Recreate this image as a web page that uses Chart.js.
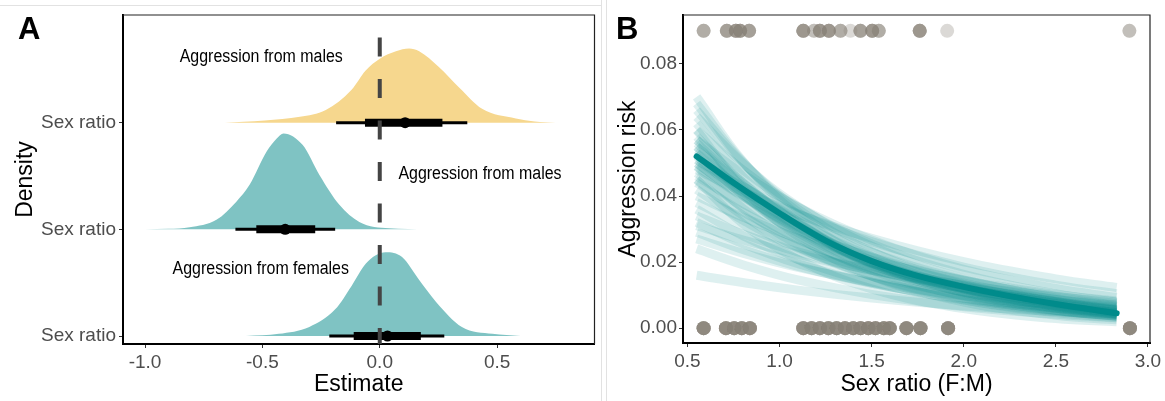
<!DOCTYPE html>
<html>
<head>
<meta charset="utf-8">
<script src="https://cdn.jsdelivr.net/npm/chart.js@4.4.0/dist/chart.umd.min.js"></script>
<style>
  html, body { margin: 0; padding: 0; background: #fff; }
  body { width: 1165px; height: 401px; position: relative; overflow: hidden; }
  canvas { position: absolute; top: 0; }
  #chartA { left: 0; }
  #chartB { left: 607px; }
  .rule-h { position: absolute; left: 0; top: 5px; width: 601px; height: 1px; background: #e2e2e2; }
  .rule-v { position: absolute; top: 0; width: 1px; height: 401px; background: #e2e2e2; }
</style>
</head>
<body>
<div class="rule-h"></div>
<div class="rule-v" style="left:601px"></div>
<div class="rule-v" style="left:606px"></div>
<canvas id="chartA" width="600" height="401"></canvas>
<canvas id="chartB" width="558" height="401"></canvas>
<script>
// ---------- Panel A data: posterior densities of the sex ratio effect ----------
const rowLabels = ['Sex ratio', 'Sex ratio', 'Sex ratio'];
const rowBase = [2, 1, 0];          // top, middle, bottom ridge
const xTicksA = [-1.0, -0.5, 0.0, 0.5];

const densTopX = [-0.66, -0.58, -0.49, -0.34, -0.23, -0.12, -0.06, 0.0, 0.069, 0.125, 0.168, 0.253, 0.338, 0.436, 0.58, 0.66, 0.75];
const densTopH = [0.0, 0.008, 0.02, 0.055, 0.12, 0.31, 0.49, 0.6, 0.67, 0.695, 0.67, 0.52, 0.33, 0.13, 0.04, 0.012, 0.0];

const densMidX = [-1.0, -0.9, -0.81, -0.696, -0.611, -0.554, -0.482, -0.44, -0.41, -0.328, -0.257, -0.172, -0.087, 0.04, 0.2];
const densMidH = [0.0, 0.005, 0.02, 0.09, 0.26, 0.42, 0.73, 0.85, 0.9, 0.79, 0.51, 0.23, 0.07, 0.01, 0.0];

const densBotX = [-0.57, -0.43, -0.30, -0.19, -0.12, -0.059, 0.025, 0.095, 0.165, 0.24, 0.35, 0.48, 0.6];
const densBotH = [0.0, 0.02, 0.085, 0.25, 0.47, 0.68, 0.785, 0.74, 0.535, 0.32, 0.085, 0.02, 0.0];

// point intervals (top, middle, bottom)
const thinLo = [-0.186, -0.615, -0.215];
const thinHi = [0.373, -0.19, 0.275];
const thickLo = [-0.063, -0.526, -0.111];
const thickHi = [0.267, -0.275, 0.175];
const medians = [0.108, -0.403, 0.033];

const annTexts = ['Aggression from males', 'Aggression from males', 'Aggression from females'];
const annX = [-0.505, 0.427, -0.507];
const annY = [2.617, 1.52, 0.63];
const zeroLine = 0;

// ---------- Panel B data: aggression risk vs sex ratio ----------
const xTicksB = [0.5, 1.0, 1.5, 2.0, 2.5, 3.0];
const yTicksB = [0.00, 0.02, 0.04, 0.06, 0.08];

// observed groups (plotted at 0.09 = aggressed, 0 = not), with number of overlapping observations
const hitY = 0.09;
const hitX = [0.588, 0.714, 0.763, 0.786, 0.835, 1.129, 1.187, 1.219, 1.268, 1.331, 1.385, 1.439, 1.503, 1.539, 1.761, 1.910, 2.899];
const hitN = [3, 4, 5, 5, 4, 5, 2, 5, 5, 3, 1, 4, 5, 3, 5, 1, 2];
const missY = 0;
const missX = [0.588, 0.709, 0.754, 0.795, 0.839, 1.129, 1.174, 1.219, 1.265, 1.310, 1.355, 1.400, 1.440, 1.482, 1.521, 1.566, 1.598, 1.689, 1.765, 1.915, 2.902];
const missN = [8, 8, 8, 8, 8, 8, 8, 8, 8, 8, 8, 8, 8, 8, 8, 8, 8, 8, 8, 8, 8];

// posterior draws, read at these sex ratios
const curveX = [0.55, 0.8, 1.1, 1.5, 2.0, 2.5, 2.83];
const draws = [
    [0.070, 0.0506, 0.0342, 0.0204, 0.0106, 0.0055, 0.0036],
    [0.068, 0.0504, 0.0352, 0.0218, 0.0120, 0.0065, 0.0045],
    [0.066, 0.0502, 0.0360, 0.0232, 0.0134, 0.0077, 0.0054],
    [0.064, 0.0499, 0.0369, 0.0248, 0.0150, 0.0091, 0.0066],
    [0.062, 0.0459, 0.0321, 0.0198, 0.0109, 0.0060, 0.0041],
    [0.060, 0.0479, 0.0366, 0.0255, 0.0163, 0.0104, 0.0078],
    [0.060, 0.0423, 0.0278, 0.0158, 0.0079, 0.0039, 0.0025],
    [0.058, 0.0441, 0.0317, 0.0204, 0.0118, 0.0068, 0.0048],
    [0.057, 0.0467, 0.0367, 0.0267, 0.0178, 0.0120, 0.0093],
    [0.057, 0.0440, 0.0318, 0.0193, 0.0114, 0.0065, 0.0040],
    [0.056, 0.0436, 0.0323, 0.0217, 0.0132, 0.0080, 0.0058],
    [0.055, 0.0408, 0.0284, 0.0176, 0.0097, 0.0053, 0.0036],
    [0.055, 0.0432, 0.0316, 0.0196, 0.0119, 0.0069, 0.0043],
    [0.054, 0.0431, 0.0329, 0.0230, 0.0146, 0.0093, 0.0070],
    [0.053, 0.0403, 0.0289, 0.0187, 0.0108, 0.0062, 0.0043],
    [0.053, 0.0420, 0.0310, 0.0196, 0.0122, 0.0074, 0.0047],
    [0.052, 0.0405, 0.0300, 0.0201, 0.0122, 0.0074, 0.0054],
    [0.051, 0.0412, 0.0308, 0.0199, 0.0127, 0.0079, 0.0052],
    [0.051, 0.0428, 0.0347, 0.0262, 0.0185, 0.0130, 0.0104],
    [0.050, 0.0400, 0.0305, 0.0213, 0.0136, 0.0087, 0.0065],
    [0.050, 0.0400, 0.0296, 0.0190, 0.0120, 0.0075, 0.0050],
    [0.049, 0.0363, 0.0253, 0.0157, 0.0086, 0.0047, 0.0032],
    [0.049, 0.0398, 0.0300, 0.0197, 0.0128, 0.0081, 0.0055],
    [0.048, 0.0413, 0.0345, 0.0272, 0.0201, 0.0149, 0.0123],
    [0.047, 0.0366, 0.0271, 0.0182, 0.0110, 0.0067, 0.0048],
    [0.046, 0.0377, 0.0296, 0.0215, 0.0144, 0.0097, 0.0075],
    [0.045, 0.0342, 0.0246, 0.0158, 0.0091, 0.0053, 0.0037],
    [0.045, 0.0317, 0.0208, 0.0119, 0.0059, 0.0029, 0.0019],
    [0.044, 0.0352, 0.0268, 0.0187, 0.0119, 0.0076, 0.0057],
    [0.042, 0.0327, 0.0242, 0.0163, 0.0099, 0.0060, 0.0043],
    [0.040, 0.0336, 0.0272, 0.0206, 0.0145, 0.0102, 0.0082],
    [0.038, 0.0311, 0.0245, 0.0178, 0.0119, 0.0080, 0.0062],
    [0.036, 0.0280, 0.0208, 0.0139, 0.0085, 0.0051, 0.0037],
    [0.034, 0.0285, 0.0231, 0.0175, 0.0123, 0.0087, 0.0069],
    [0.032, 0.0256, 0.0195, 0.0136, 0.0087, 0.0055, 0.0042],
    [0.031, 0.0267, 0.0223, 0.0175, 0.0130, 0.0096, 0.0079],
    [0.029, 0.0238, 0.0187, 0.0136, 0.0091, 0.0061, 0.0047],
    [0.027, 0.0227, 0.0184, 0.0139, 0.0098, 0.0069, 0.0055],
    [0.024, 0.0192, 0.0146, 0.0102, 0.0065, 0.0042, 0.0031],
    [0.016, 0.0138, 0.0115, 0.0091, 0.0067, 0.0050, 0.0041]
];
// posterior mean curve
const meanX = [0.55, 0.75, 1.0, 1.25, 1.5, 1.75, 2.0, 2.25, 2.5, 2.83];
const meanY = [0.052, 0.0440, 0.0348, 0.0265, 0.0203, 0.0158, 0.0125, 0.0097, 0.0073, 0.0045];

// ---------- shared styling ----------
const FONT = "'Liberation Sans', Arial, sans-serif";
const TEAL = 'rgb(0,139,139)';
const tickFont = { family: FONT, size: 19 };
const titleFont = { family: FONT, size: 23, lineHeight: 1 };

function toPoints(xs, ys, base) {
    return xs.map((x, i) => ({ x: x, y: base + ys[i] }));
}

function repeatObs(xs, ns, y) {
    const pts = [];
    xs.forEach((x, i) => {
        for (let k = 0; k < ns[i]; k++) pts.push({ x: x, y: y });
    });
    return pts;
}

function axis(opts) {
    return {
        type: 'linear',
        min: opts.min,
        max: opts.max,
        afterBuildTicks: s => { s.ticks = opts.ticks.map(v => ({ value: v })); },
        afterFit: opts.fit,
        ticks: { callback: opts.label, color: '#4d4d4d', font: tickFont, padding: opts.pad, maxRotation: 0, autoSkip: false },
        grid: { drawOnChartArea: false, drawTicks: true, tickLength: 4, tickColor: '#333', tickWidth: 1 },
        border: { display: true, color: '#000', width: 2 },
        title: { display: true, text: opts.title, color: '#000', font: titleFont, padding: opts.titlePad }
    };
}

// top + right edge of the panel
const framePlugin = {
    id: 'frame',
    afterDraw(chart) {
        const { ctx, chartArea: a } = chart;
        ctx.save();
        ctx.strokeStyle = '#222';
        ctx.lineWidth = 1.2;
        ctx.beginPath();
        ctx.moveTo(a.left, a.top);
        ctx.lineTo(a.right, a.top);
        ctx.lineTo(a.right, a.bottom);
        ctx.stroke();
        ctx.restore();
    }
};

function letterPlugin(letter, x) {
    return {
        id: 'letter' + letter,
        afterDraw(chart) {
            const ctx = chart.ctx;
            ctx.save();
            ctx.font = 'bold 31px ' + FONT;
            ctx.fillStyle = '#000';
            ctx.textBaseline = 'alphabetic';
            ctx.fillText(letter, x, 39);
            ctx.restore();
        }
    };
}

// dashed zero line, drawn over the slabs
const zeroLinePlugin = {
    id: 'zeroLine',
    afterDatasetsDraw(chart) {
        const { ctx, chartArea: a, scales } = chart;
        const px = scales.x.getPixelForValue(zeroLine);
        ctx.save();
        ctx.strokeStyle = '#444';
        ctx.lineWidth = 4;
        ctx.setLineDash([19, 22.5]);
        ctx.lineDashOffset = 19;
        ctx.beginPath();
        ctx.moveTo(px, a.top);
        ctx.lineTo(px, a.bottom);
        ctx.stroke();
        ctx.restore();
    }
};

const annotationPlugin = {
    id: 'annotations',
    afterDatasetsDraw(chart) {
        const { ctx, scales } = chart;
        ctx.save();
        ctx.font = '18px ' + FONT;
        ctx.fillStyle = '#000';
        ctx.textAlign = 'center';
        ctx.textBaseline = 'middle';
        annTexts.forEach((t, i) => {
            ctx.save();
            ctx.translate(scales.x.getPixelForValue(annX[i]), scales.y.getPixelForValue(annY[i]));
            ctx.scale(0.886, 1); // narrow face
            ctx.fillText(t, 0, 0);
            ctx.restore();
        });
        ctx.restore();
    }
};

// ---------- Panel A ----------
// lower "order" is drawn on top
const slab = (xs, hs, base, color) => ({
    data: toPoints(xs, hs, base),
    order: 2,
    borderWidth: 0,
    borderColor: 'rgba(0,0,0,0)',
    backgroundColor: color,
    fill: { value: base },
    pointRadius: 0,
    cubicInterpolationMode: 'monotone'
});

const intervalSets = [];
rowBase.forEach((b, i) => {
    intervalSets.push({
        data: [{ x: thinLo[i], y: b }, { x: thinHi[i], y: b }],
        order: 1, borderColor: '#000', borderWidth: 3, pointRadius: 0, fill: false
    });
    intervalSets.push({
        data: [{ x: thickLo[i], y: b }, { x: thickHi[i], y: b }],
        order: 1, borderColor: '#000', borderWidth: 8, pointRadius: 0, fill: false
    });
    intervalSets.push({
        data: [{ x: medians[i], y: b }],
        order: 0, showLine: false, pointRadius: 5.5, pointBackgroundColor: '#000', pointBorderWidth: 0, fill: false
    });
});

new Chart(document.getElementById('chartA'), {
    type: 'line',
    data: {
        datasets: [
            slab(densTopX, densTopH, rowBase[0], 'rgb(246,215,142)'),
            slab(densMidX, densMidH, rowBase[1], 'rgb(127,195,195)'),
            slab(densBotX, densBotH, rowBase[2], 'rgb(127,195,195)'),
            ...intervalSets
        ]
    },
    options: {
        responsive: false,
        animation: false,
        devicePixelRatio: 1,
        layout: { padding: { left: 0, right: 4, top: 15, bottom: 0 } },
        plugins: { legend: { display: false }, tooltip: { enabled: false } },
        scales: {
            x: axis({
                min: -1.094, max: 0.915, ticks: xTicksA,
                label: v => v.toFixed(1), pad: 3,
                fit: s => { s.height = 57; },
                title: 'Estimate', titlePad: { top: 0, bottom: 5 }
            }),
            y: axis({
                min: -0.075, max: 3.01, ticks: rowBase,
                label: v => rowLabels[rowBase.indexOf(v)], pad: 3,
                fit: s => { s.width = 123; },
                title: 'Density', titlePad: { top: 14, bottom: 0 }
            })
        }
    },
    plugins: [framePlugin, zeroLinePlugin, annotationPlugin, letterPlugin('A', 18)]
});

// ---------- Panel B ----------
const drawSets = draws.map(d => ({
    data: toPoints(curveX, d, 0),
    order: 1,
    borderColor: 'rgba(0,139,139,0.13)',
    borderWidth: 9,
    borderCapStyle: 'butt',
    pointRadius: 0,
    fill: false,
    tension: 0.4
}));

const obsStyle = {
    order: 2,
    showLine: false,
    pointRadius: 7,
    pointBorderWidth: 0,
    pointBackgroundColor: 'rgba(135,130,120,0.3)',
    fill: false
};

new Chart(document.getElementById('chartB'), {
    type: 'line',
    data: {
        datasets: [
            Object.assign({ data: repeatObs(hitX, hitN, hitY) }, obsStyle),
            Object.assign({ data: repeatObs(missX, missN, missY) }, obsStyle),
            ...drawSets,
            {
                data: toPoints(meanX, meanY, 0),
                order: 0,
                borderColor: TEAL,
                borderWidth: 6,
                borderCapStyle: 'round',
                pointRadius: 0,
                fill: false,
                cubicInterpolationMode: 'monotone'
            }
        ]
    },
    options: {
        responsive: false,
        animation: false,
        devicePixelRatio: 1,
        layout: { padding: { left: 0, right: 15, top: 15, bottom: 0 } },
        plugins: { legend: { display: false }, tooltip: { enabled: false } },
        scales: {
            x: axis({
                min: 0.476, max: 3.011, ticks: xTicksB,
                label: v => v.toFixed(1), pad: 3,
                fit: s => { s.height = 58; },
                title: 'Sex ratio (F:M)', titlePad: { top: 0, bottom: 5 }
            }),
            y: axis({
                min: -0.0045, max: 0.0948, ticks: yTicksB,
                label: v => v.toFixed(2), pad: 2,
                fit: s => { s.width = 76; },
                title: 'Aggression risk', titlePad: { top: 10, bottom: 0 }
            })
        }
    },
    plugins: [framePlugin, letterPlugin('B', 9)]
});
</script>
</body>
</html>
